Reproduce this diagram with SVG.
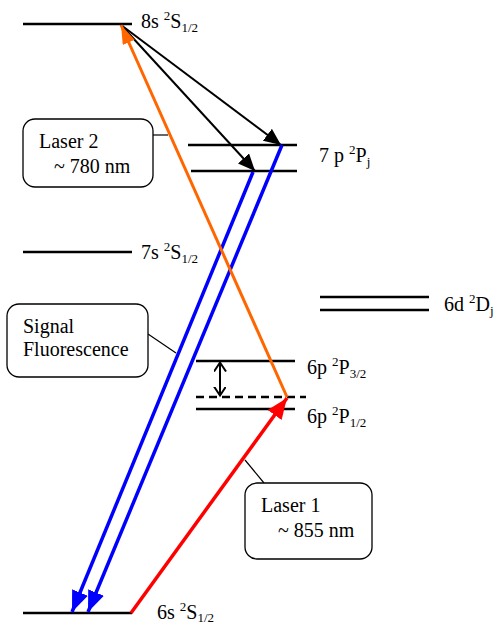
<svg xmlns="http://www.w3.org/2000/svg" width="500" height="626" viewBox="0 0 500 626">
<style>
.lvl{stroke:#000;stroke-width:2.5;fill:none}
.lbl{font-family:"Liberation Serif","Times New Roman",Times,Tinos,"DejaVu Serif","Noto Serif",serif;font-size:20px;fill:#000}
.sm{font-size:13px}
.box{fill:#fff;stroke:#000;stroke-width:1.3}
.lead{stroke:#000;stroke-width:1.2;fill:none}
</style>
<defs>
<marker id="ah-k" markerUnits="userSpaceOnUse" markerWidth="20" markerHeight="16" refX="17" refY="7.5" orient="auto"><path d="M0,0 L17,7.5 L0,15 z" fill="#000"/></marker>
<marker id="ah-b" markerUnits="userSpaceOnUse" markerWidth="24" markerHeight="18" refX="21" refY="8.5" orient="auto"><path d="M0,0 L21,8.5 L0,17 z" fill="#0000ff"/></marker>
<marker id="ah-r" markerUnits="userSpaceOnUse" markerWidth="24" markerHeight="18" refX="21" refY="8.5" orient="auto"><path d="M0,0 L21,8.5 L0,17 z" fill="#ff0000"/></marker>
<marker id="ah-o" markerUnits="userSpaceOnUse" markerWidth="22" markerHeight="14" refX="19" refY="6.5" orient="auto"><path d="M0,0 L19,6.5 L0,13 z" fill="#ff6600"/></marker>
<marker id="ah-v" markerUnits="userSpaceOnUse" markerWidth="12" markerHeight="14" refX="9" refY="6" orient="auto"><path d="M0,0 L9,6 L0,12" fill="none" stroke="#000" stroke-width="2"/></marker>
</defs>

<g id="level-8s">
<line class="lvl" x1="23" y1="24" x2="132" y2="24"/>
<text class="lbl" x="141" y="28">8s <tspan class="sm" dy="-8">2</tspan><tspan dy="8">S</tspan><tspan class="sm" dy="4">1/2</tspan></text>
</g>
<g id="level-7p">
<line class="lvl" x1="188" y1="145" x2="297" y2="145"/>
<line class="lvl" x1="191" y1="171" x2="297" y2="171"/>
<text class="lbl" x="319" y="162">7 p <tspan class="sm" dy="-8">2</tspan><tspan dy="8">P</tspan><tspan class="sm" dy="4">j</tspan></text>
</g>
<g id="level-7s">
<line class="lvl" x1="23" y1="252" x2="132" y2="252"/>
<text class="lbl" x="141" y="259">7s <tspan class="sm" dy="-8">2</tspan><tspan dy="8">S</tspan><tspan class="sm" dy="4">1/2</tspan></text>
</g>
<g id="level-6d">
<line class="lvl" x1="320" y1="297" x2="429" y2="297"/>
<line class="lvl" x1="320" y1="310" x2="429" y2="310"/>
<text class="lbl" x="444" y="311">6d <tspan class="sm" dy="-8">2</tspan><tspan dy="8">D</tspan><tspan class="sm" dy="4">j</tspan></text>
</g>
<g id="level-6p32">
<line class="lvl" x1="196" y1="361" x2="295" y2="361"/>
<text class="lbl" x="307" y="374">6p <tspan class="sm" dy="-8">2</tspan><tspan dy="8">P</tspan><tspan class="sm" dy="4">3/2</tspan></text>
</g>
<g id="level-virtual">
<line class="lvl" x1="196" y1="397" x2="306" y2="397" stroke-dasharray="8,5"/>
</g>
<g id="level-6p12">
<line class="lvl" x1="196" y1="409" x2="295" y2="409"/>
<text class="lbl" x="307" y="423">6p <tspan class="sm" dy="-8">2</tspan><tspan dy="8">P</tspan><tspan class="sm" dy="4">1/2</tspan></text>
</g>
<g id="level-6s">
<line class="lvl" x1="23" y1="613" x2="132" y2="613"/>
<text class="lbl" x="157" y="619">6s <tspan class="sm" dy="-8">2</tspan><tspan dy="8">S</tspan><tspan class="sm" dy="3">1/2</tspan></text>
</g>

<g id="connectors">
<line x1="121" y1="25" x2="281" y2="145" stroke="#000" stroke-width="2" marker-end="url(#ah-k)"/>
<line x1="121" y1="25" x2="255" y2="171" stroke="#000" stroke-width="2" marker-end="url(#ah-k)"/>
<line x1="282" y1="145" x2="88" y2="612" stroke="#0000ff" stroke-width="3.5" marker-end="url(#ah-b)"/>
<line x1="253" y1="172" x2="72" y2="612" stroke="#0000ff" stroke-width="3.5" marker-end="url(#ah-b)"/>
<line x1="287" y1="397" x2="121" y2="25" stroke="#ff6600" stroke-width="3" marker-end="url(#ah-o)"/>
<line x1="131" y1="613" x2="287" y2="398" stroke="#ff0000" stroke-width="3.5" marker-end="url(#ah-r)"/>
<line x1="220" y1="379" x2="220" y2="362.5" stroke="#000" stroke-width="2" marker-end="url(#ah-v)"/>
<line x1="220" y1="379" x2="220" y2="395.5" stroke="#000" stroke-width="2" marker-end="url(#ah-v)"/>
</g>

<g id="callout-laser2">
<line class="lead" x1="153" y1="135" x2="168" y2="135"/>
<rect class="box" x="23" y="119" width="130" height="68" rx="12"/>
<text class="lbl" x="39" y="148">Laser 2</text>
<text class="lbl" x="54" y="173">~ 780 nm</text>
</g>
<g id="callout-fluorescence">
<line class="lead" x1="148" y1="334" x2="176" y2="353"/>
<rect class="box" x="7" y="304" width="141" height="73" rx="12"/>
<text class="lbl" x="23" y="333">Signal</text>
<text class="lbl" x="23" y="356">Fluorescence</text>
</g>
<g id="callout-laser1">
<line class="lead" x1="245" y1="460" x2="264" y2="483"/>
<rect class="box" x="245" y="483" width="127" height="76" rx="12"/>
<text class="lbl" x="261" y="512">Laser 1</text>
<text class="lbl" x="278" y="537">~ 855 nm</text>
</g>
</svg>
